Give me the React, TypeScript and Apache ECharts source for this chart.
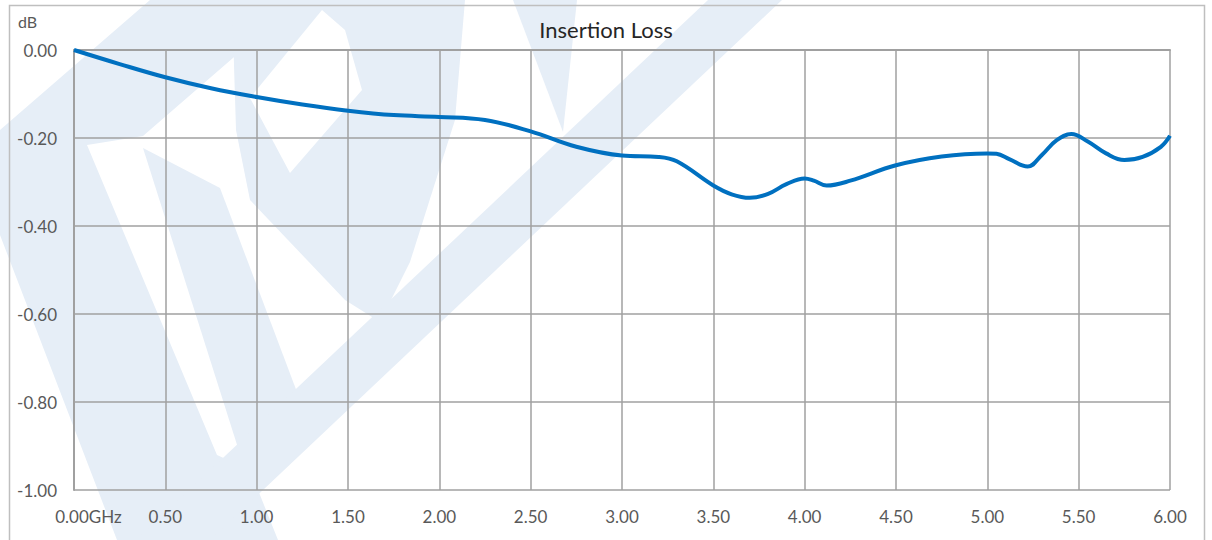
import React, { useEffect, useRef } from "react";
import * as echarts from "echarts";

const freqGHz = [0, 0.25, 0.5, 0.75, 1.0, 1.25, 1.5, 1.75, 2.0, 2.25, 2.5, 2.75, 3.0, 3.2, 3.3, 3.5, 3.6, 3.7, 3.8, 3.9, 4.0, 4.05, 4.12, 4.25, 4.5, 4.75, 5.0, 5.05, 5.12, 5.22, 5.3, 5.38, 5.46, 5.55, 5.65, 5.75, 5.85, 5.95, 6.0];
const lossDB = [0, -0.032, -0.062, -0.087, -0.107, -0.124, -0.138, -0.148, -0.152, -0.159, -0.185, -0.220, -0.240, -0.243, -0.253, -0.308, -0.328, -0.336, -0.327, -0.305, -0.292, -0.297, -0.308, -0.297, -0.262, -0.242, -0.235, -0.236, -0.248, -0.265, -0.238, -0.205, -0.191, -0.208, -0.235, -0.250, -0.243, -0.220, -0.195];

const titleText = "Insertion Loss";
const yUnit = "dB";
const xUnit = "GHz";

const WM = "#e6eef7";
const FONT = "Lato, 'Open Sans', sans-serif";

const wmPoly = (pts: number[][], fill = WM, z = -10) => ({
  type: "polygon",
  z,
  silent: true,
  shape: { points: pts },
  style: { fill },
});

export default function App() {
  const ref = useRef<HTMLDivElement>(null);
  useEffect(() => {
    if (!ref.current) return;
    const chart = echarts.init(ref.current, undefined, { renderer: "svg" });
    const data = freqGHz.map((f, i) => [f, lossDB[i]]);
    chart.setOption({
      animation: false,
      backgroundColor: "#ffffff",
      title: {
        text: titleText,
        left: "center",
        top: 13,
        textStyle: { fontFamily: FONT, fontSize: 22, fontWeight: "normal", color: "#262626" },
      },
      graphic: [
        // outer stroke: top-left band + left band
        wmPoly([[150, 0], [300, 0], [143, 136], [87, 145], [217, 455], [250, 470], [278, 540], [117, 540], [0, 235], [0, 130]]),
        // band right of the white corridor
        wmPoly([[143, 148], [220, 188], [300, 400], [267, 458], [245, 470]]),
        // P bowl
        wmPoly([[232, 0], [465, 0], [455, 120], [410, 262], [380, 322], [345, 300], [250, 200], [236, 130]]),
        // counter of the bowl
        wmPoly([[322, 10], [345, 30], [362, 90], [290, 173], [250, 98]], "#ffffff", -9),
        // long diagonal band
        wmPoly([[708, 0], [782, 0], [210, 540], [136, 540]]),
        // small wedge
        wmPoly([[513, 0], [577, 0], [563, 132]]),
        { type: "rect", z: -8, shape: { x: 9.5, y: 5.5, width: 1195, height: 545 }, style: { fill: "none", stroke: "#bfbfbf", lineWidth: 1.5 } },
        { type: "text", left: 18, top: 13, style: { text: yUnit, fontFamily: FONT, fontSize: 16, fill: "#595959" } },
      ],
      grid: { left: 74, right: 42, top: 50, bottom: 50, containLabel: false },
      xAxis: {
        type: "value",
        min: 0,
        max: 6,
        interval: 0.5,
        axisLine: { show: true, lineStyle: { color: "#a0a0a0", width: 2 } },
        axisTick: { show: false },
        splitLine: { show: true, lineStyle: { color: "#a0a0a0", width: 1.5 } },
        axisLabel: {
          margin: 18,
          fontFamily: FONT,
          fontSize: 17,
          color: "#595959",
          formatter: (v: number) => (v === 0 ? "{first|" + v.toFixed(2) + xUnit + "}" : v.toFixed(2)),
          rich: { first: { padding: [0, 0, 0, 29], fontFamily: FONT, fontSize: 17, color: "#595959" } },
        },
      },
      yAxis: {
        type: "value",
        min: -1,
        max: 0,
        interval: 0.2,
        axisLine: { show: true, lineStyle: { color: "#a0a0a0", width: 2 } },
        axisTick: { show: false },
        splitLine: { show: true, lineStyle: { color: "#a0a0a0", width: 1.5 } },
        axisLabel: {
          margin: 17,
          fontFamily: FONT,
          fontSize: 17,
          color: "#595959",
          formatter: (v: number) => v.toFixed(2),
        },
      },
      series: [
        {
          type: "line",
          data,
          smooth: 0.4,
          showSymbol: false,
          lineStyle: { color: "#0070c0", width: 4 },
          z: 5,
        },
      ],
    });
    return () => chart.dispose();
  }, []);
  return <div ref={ref} style={{ position: "fixed", left: 0, top: 0, width: 1212, height: 540 }} />;
}
